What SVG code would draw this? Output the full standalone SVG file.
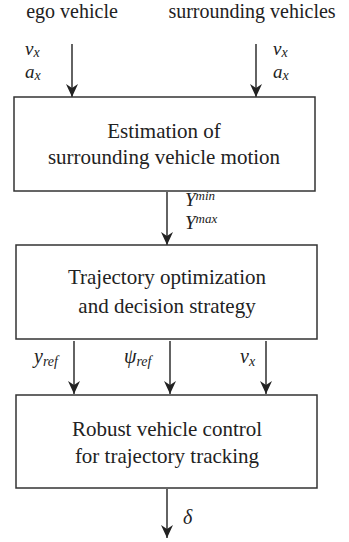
<svg xmlns="http://www.w3.org/2000/svg" width="349" height="542" viewBox="0 0 349 542">
<style>
.box{fill:#fff;stroke:#333;stroke-width:1.5}
.t{font-family:'Liberation Serif','Times New Roman','DejaVu Serif',serif;font-size:21px;fill:#222;text-anchor:middle}
.h{font-size:20px}
.l{font-family:'Liberation Serif','Times New Roman','DejaVu Serif',serif;font-size:20px;fill:#222;font-style:italic}
.m{font-size:19px}
.s{font-size:14px}
.p{font-size:13px}
.c{stroke:#222;stroke-width:1.4;fill:none;marker-end:url(#ah)}
</style>
<defs>
<marker id="ah" markerWidth="13" markerHeight="12" refX="13" refY="6" orient="auto" markerUnits="userSpaceOnUse" viewBox="0 0 13 12">
<path d="M0,0 L13,6 L0,12 L4,6 Z" fill="#222"/>
</marker>
</defs>
<text class="t h" x="72" y="18">ego vehicle</text>
<text class="t h" x="252" y="18">surrounding vehicles</text>
<g id="connectors">
<path class="c" d="M72,44 V97"/>
<path class="c" d="M256,44 V97"/>
<path class="c" d="M167,192 V245"/>
<path class="c" d="M74,341 V394"/>
<path class="c" d="M170,341 V394"/>
<path class="c" d="M266,341 V394"/>
<path class="c" d="M167,489 V538"/>
</g>
<g id="lbl-ego"><text class="l m" x="25" y="55">v<tspan class="s" dy="2">x</tspan></text><text class="l m" x="25" y="78">a<tspan class="s" dy="2">x</tspan></text></g>
<g id="lbl-sur"><text class="l m" x="273" y="55">v<tspan class="s" dy="2">x</tspan></text><text class="l m" x="273" y="78">a<tspan class="s" dy="2">x</tspan></text></g>
<g id="estimation">
<rect class="box" x="14" y="97" width="301" height="94"/>
<text class="t" x="164" y="138">Estimation of</text>
<text class="t" x="164" y="164">surrounding vehicle motion</text>
</g>
<g id="lbl-y"><text class="l m" x="185" y="206">Y<tspan class="p" dy="-6">min</tspan></text><text class="l m" x="185" y="229">Y<tspan class="p" dy="-6">max</tspan></text></g>
<g id="trajectory">
<rect class="box" x="16" y="245" width="301" height="94"/>
<text class="t" x="167" y="284">Trajectory optimization</text>
<text class="t" x="167" y="313">and decision strategy</text>
</g>
<g id="lbl-out"><text class="l" x="34" y="363">y<tspan class="s" dy="3">ref</tspan></text><text class="l" x="124" y="363">ψ<tspan class="s" dy="3">ref</tspan></text><text class="l" x="240" y="363">v<tspan class="s" dy="3">x</tspan></text></g>
<g id="control">
<rect class="box" x="16" y="395" width="301" height="93"/>
<text class="t" x="167" y="436">Robust vehicle control</text>
<text class="t" x="167" y="463">for trajectory tracking</text>
</g>
<g id="lbl-d"><text class="l" x="183" y="524">δ</text></g>
</svg>
